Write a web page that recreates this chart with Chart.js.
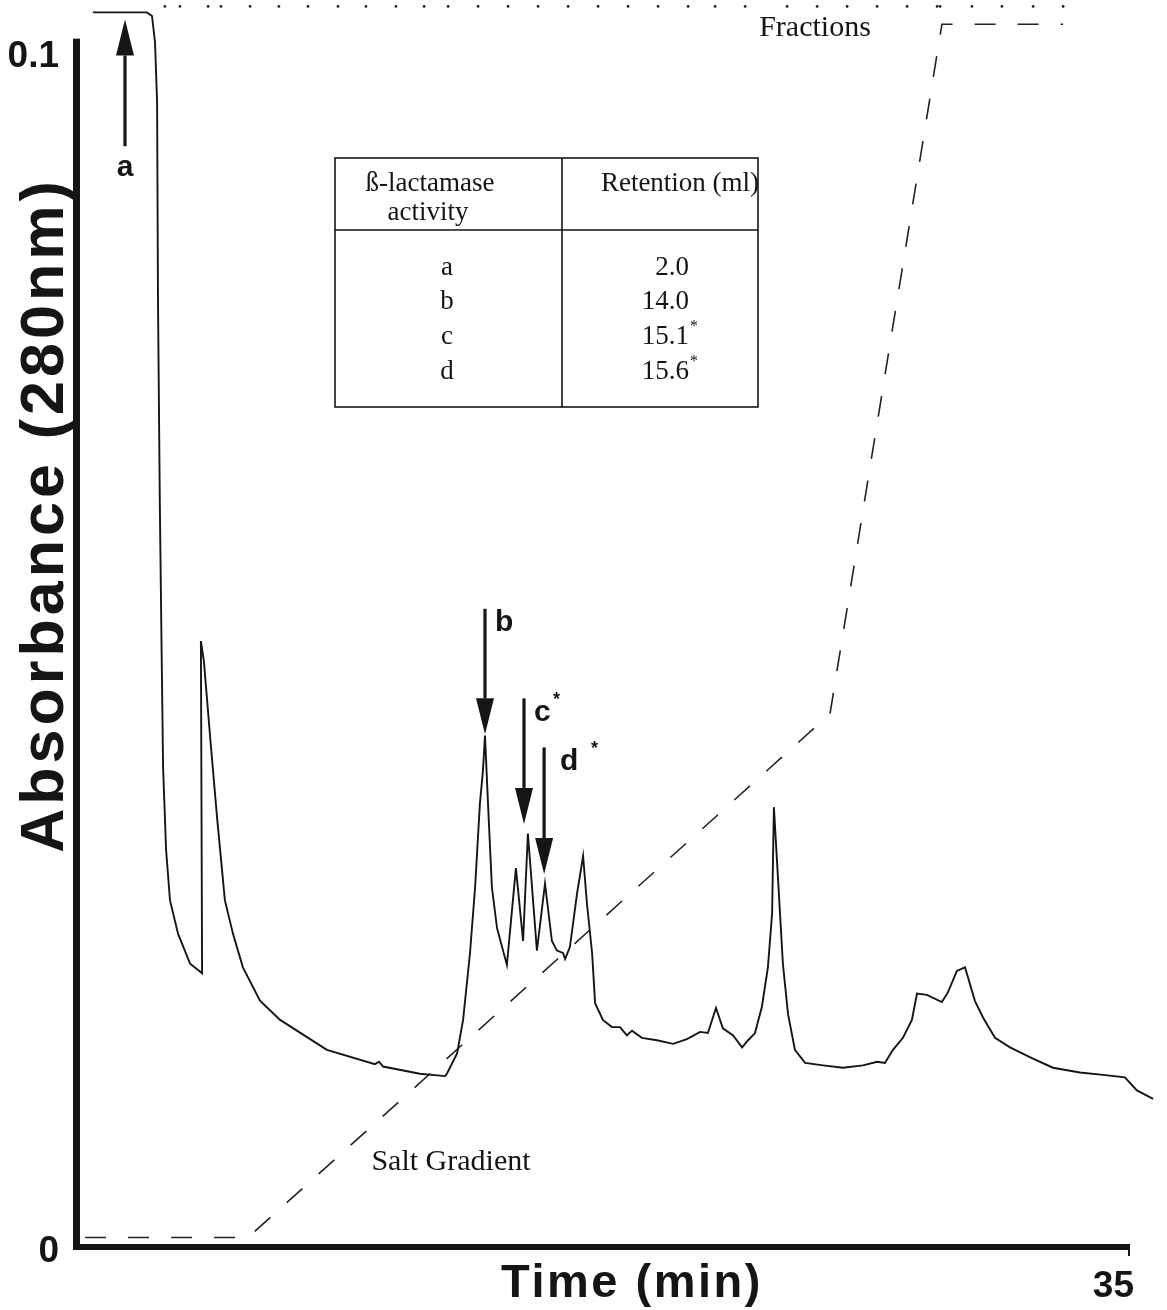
<!DOCTYPE html>
<html><head><meta charset="utf-8">
<script src="https://cdn.jsdelivr.net/npm/chart.js@4.4.1/dist/chart.umd.min.js"></script>
<style>html,body{margin:0;padding:0;background:#fff;}canvas{display:block;}</style>
</head><body>
<canvas id="c" width="1167" height="1310"></canvas>
<script>
// ---- data ----
const absTime = [0.43,2.23,2.40,2.50,2.57,2.60,2.66,2.72,2.77,2.87,3.00,3.27,3.67,4.07,4.03,4.13,4.33,4.57,4.83,5.10,5.43,6.00,6.67,8.23,9.83,9.97,10.10,11.33,12.17,12.23,12.57,12.77,13.00,13.17,13.33,13.43,13.50,13.60,13.73,13.90,14.23,14.53,14.77,14.93,15.23,15.50,15.73,15.90,16.10,16.17,16.33,16.57,16.77,16.90,17.07,17.17,17.43,17.73,18.00,18.23,18.40,18.73,19.23,19.77,20.23,20.67,20.93,21.20,21.43,21.77,22.07,22.27,22.50,22.73,22.93,23.07,23.13,23.27,23.43,23.60,23.83,24.17,24.77,25.43,26.10,26.57,26.83,27.10,27.43,27.73,27.90,28.23,28.73,28.93,29.23,29.50,29.83,30.10,30.50,31.00,31.73,32.43,33.33,34.10,34.83,35.23,35.77];
const absValue = [0.1033,0.1033,0.1030,0.1008,0.0958,0.0791,0.0624,0.0499,0.0401,0.0332,0.0290,0.0262,0.0237,0.0229,0.0507,0.0490,0.0429,0.0359,0.0290,0.0262,0.0234,0.0206,0.0190,0.0165,0.0153,0.0155,0.0151,0.0145,0.0143,0.0145,0.0162,0.0190,0.0246,0.0301,0.0371,0.0398,0.0428,0.0371,0.0301,0.0267,0.0236,0.0317,0.0256,0.0346,0.0248,0.0304,0.0256,0.0248,0.0246,0.0241,0.0251,0.0296,0.0327,0.0287,0.0246,0.0204,0.0190,0.0184,0.0184,0.0177,0.0181,0.0175,0.0173,0.0170,0.0174,0.0180,0.0179,0.0200,0.0183,0.0177,0.0167,0.0173,0.0179,0.0201,0.0234,0.0279,0.0368,0.0307,0.0237,0.0195,0.0165,0.0154,0.0152,0.0150,0.0152,0.0155,0.0154,0.0165,0.0175,0.0190,0.0212,0.0211,0.0205,0.0213,0.0231,0.0234,0.0206,0.0192,0.0175,0.0167,0.0158,0.0150,0.0146,0.0144,0.0142,0.0131,0.0124];
const saltTime = [0.17,5.60,25.00,28.73,32.77];
const saltValue = [0.0008,0.0008,0.0446,0.1023,0.1023];
const fractionTimes = [2.83,3.33,4.27,4.70,5.67,6.63,7.60,8.60,9.53,10.53,11.47,12.27,13.27,14.27,15.27,16.27,17.27,18.27,19.27,20.27,21.17,22.17,23.57,24.57,25.57,26.57,27.57,28.57,28.67,29.73,30.73,31.77,32.77];
const fractionLevel = 0.1038;
const yTickValues = [0, 0.1];
const yTickLabels = ['0', '0.1'];
const xTickValues = [35];
const xTickLabels = ['35'];
const xTitle = 'Time (min)';
const yTitle = 'Absorbance (280nm)';
const arrowLabels = ['a', 'b', 'c', 'd'];
const arrowStars = [false, false, true, true];
const arrowTime = [1.5, 13.5, 14.8, 15.47];
const arrowFrom = [0.0921, 0.0534, 0.0459, 0.0418];
const arrowTo = [0.1027, 0.0429, 0.0354, 0.0312];
const tableHead1 = ['ß-lactamase', 'activity'];
const tableHead2 = 'Retention (ml)';
const tableActivity = ['a', 'b', 'c', 'd'];
const tableRetention = ['2.0', '14.0', '15.1', '15.6'];
const tableStar = [false, false, true, true];
const fractionsLabel = 'Fractions';
const saltLabel = 'Salt Gradient';

const SANS = '"Liberation Sans", Arial, Helvetica, sans-serif';
const SERIF = '"Liberation Serif", "Times New Roman", Times, serif';
const INK = '#151515';

const overlay = {
  id: 'overlay',
  afterDatasetsDraw(chart) {
    const {ctx, scales: {x, y}} = chart;
    ctx.save();
    ctx.fillStyle = INK;
    ctx.strokeStyle = INK;
    const x0 = x.getPixelForValue(0), x35 = x.getPixelForValue(35);
    const y0 = y.getPixelForValue(0), yTop = y.getPixelForValue(0.1011);
    // axes
    ctx.fillRect(x0 - 7, yTop, 7, y0 - yTop + 3);
    ctx.fillRect(x0 - 7, y0 - 3, x35 - x0 + 7, 6);
    ctx.fillRect(x35 - 2, y0 - 3, 2, 12);

    // arrows
    for (let i = 0; i < arrowTime.length; i++) {
      const px = x.getPixelForValue(arrowTime[i]);
      const pf = y.getPixelForValue(arrowFrom[i]);
      const pt = y.getPixelForValue(arrowTo[i]);
      const dir = pt < pf ? -1 : 1;
      const headLen = 36, halfW = 9;
      const hb = pt - dir * headLen;
      ctx.fillRect(px - 1.6, Math.min(pf, hb), 3.2, Math.abs(hb - pf));
      ctx.beginPath();
      ctx.moveTo(px - halfW, hb);
      ctx.lineTo(px + halfW, hb);
      ctx.lineTo(px, pt);
      ctx.closePath();
      ctx.fill();
      ctx.font = 'bold 30px ' + SANS;
      ctx.textBaseline = 'middle';
      if (i === 0) {
        ctx.textAlign = 'center';
        ctx.fillText(arrowLabels[i], px, pf + 22);
      } else {
        ctx.textAlign = 'left';
        const lx = px + 10 + (i === 3 ? 6 : 0);
        ctx.fillText(arrowLabels[i], lx, pf + 14);
        if (arrowStars[i]) {
          ctx.font = 'bold 18px ' + SANS;
          const w = 17;
          ctx.fillText('*', lx + w + (i === 3 ? 14 : 2), pf + 2);
        }
      }
    }

    // table
    const L = 335, R = 758, T = 158, B = 407, H = 230, V = 562;
    ctx.lineWidth = 1.6;
    ctx.strokeRect(L, T, R - L, B - T);
    ctx.beginPath();
    ctx.moveTo(L, H); ctx.lineTo(R, H);
    ctx.moveTo(V, T); ctx.lineTo(V, B);
    ctx.stroke();
    ctx.textBaseline = 'middle';
    ctx.textAlign = 'center';
    ctx.font = '27px ' + SERIF;
    ctx.fillText(tableHead1[0], 430, 184);
    ctx.fillText(tableHead1[1], 428, 213);
    ctx.fillText(tableHead2, 680, 184);
    const rowY = [268, 302, 337, 372];
    for (let i = 0; i < tableActivity.length; i++) {
      ctx.font = '27px ' + SERIF;
      ctx.textAlign = 'center';
      ctx.fillText(tableActivity[i], 447, rowY[i]);
      ctx.textAlign = 'right';
      ctx.fillText(tableRetention[i], 689, rowY[i]);
      if (tableStar[i]) {
        ctx.textAlign = 'left';
        ctx.font = '16px ' + SERIF;
        ctx.fillText('*', 690, rowY[i] - 10);
      }
    }

    // free labels
    ctx.font = '30px ' + SERIF;
    ctx.textAlign = 'center';
    ctx.fillText(fractionsLabel, 815, 28);
    ctx.fillText(saltLabel, 451, 1162);

    // axis titles
    ctx.font = 'bold 47px ' + SANS;
    ctx.letterSpacing = '2.5px';
    ctx.textAlign = 'center';
    ctx.fillText(xTitle, 632, 1284);
    ctx.save();
    ctx.translate(46, 515);
    ctx.rotate(-Math.PI / 2);
    ctx.font = 'bold 61px ' + SANS;
    ctx.letterSpacing = '4px';
    ctx.fillText(yTitle, 0, 0);
    ctx.restore();
    ctx.restore();
  }
};

new Chart(document.getElementById('c'), {
  type: 'scatter',
  data: {
    datasets: [
      {
        label: 'Absorbance',
        data: absTime.map((t, i) => ({x: t, y: absValue[i]})),
        showLine: true, borderColor: INK, borderWidth: 1.9,
        pointRadius: 0, tension: 0, clip: false
      },
      {
        label: 'Salt Gradient',
        data: saltTime.map((t, i) => ({x: t, y: saltValue[i]})),
        showLine: true, borderColor: '#222', borderWidth: 1.6, borderDash: [21, 22],
        pointRadius: 0, tension: 0, clip: false
      },
      {
        label: 'Fractions',
        data: fractionTimes.map(t => ({x: t, y: fractionLevel})),
        showLine: false, pointRadius: 1.4, pointBackgroundColor: '#222',
        pointBorderWidth: 0, clip: false
      }
    ]
  },
  options: {
    responsive: false,
    animation: false,
    devicePixelRatio: 1,
    layout: {padding: {top: 2, right: 7, left: 0, bottom: 0}},
    plugins: {legend: {display: false}, tooltip: {enabled: false}},
    scales: {
      x: {
        type: 'linear', min: 0, max: 36,
        grid: {display: false}, border: {display: false},
        afterBuildTicks: s => { s.ticks = xTickValues.map(v => ({value: v})); },
        afterFit: s => { s.height = 63; s.paddingLeft = 0; s.paddingRight = 0; },
        ticks: {
          color: INK, padding: 10, align: 'end', labelOffset: 4, maxRotation: 0,
          font: {family: SANS, size: 37, weight: 'bold'},
          callback: (v) => xTickLabels[xTickValues.indexOf(v)] ?? ''
        }
      },
      y: {
        type: 'linear', min: 0, max: 0.104,
        grid: {display: false}, border: {display: false},
        afterBuildTicks: s => { s.ticks = yTickValues.map(v => ({value: v})); },
        afterFit: s => { s.width = 80; s.paddingTop = 0; s.paddingBottom = 0; },
        ticks: {
          color: INK, padding: 13, labelOffset: 5,
          font: {family: SANS, size: 37, weight: 'bold'},
          callback: (v) => yTickLabels[yTickValues.indexOf(v)] ?? ''
        }
      }
    }
  },
  plugins: [overlay]
});
</script>
</body></html>
